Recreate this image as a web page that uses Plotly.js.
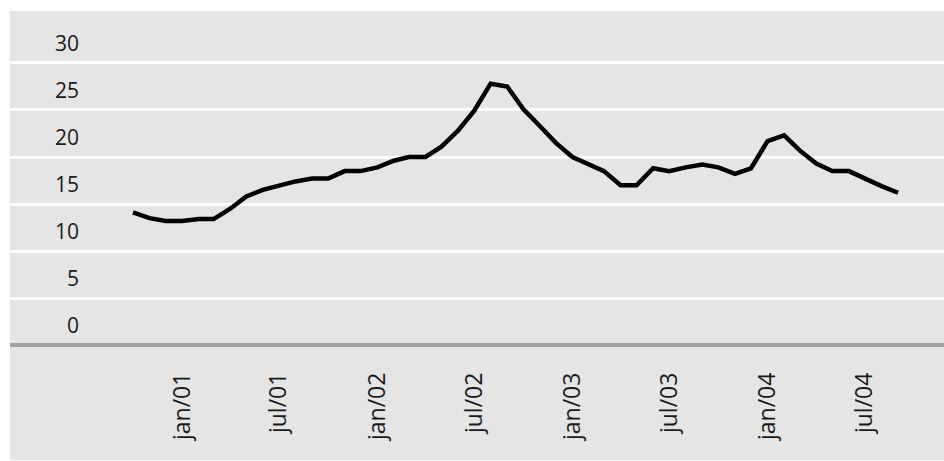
<!DOCTYPE html>
<html>
<head>
<meta charset="utf-8">
<script src="https://cdn.plot.ly/plotly-3.0.1.min.js"></script>
<style>
  html, body { margin: 0; padding: 0; background: #ffffff; }
  #chart { width: 944px; height: 461px; }
</style>
</head>
<body>
<div id="chart"></div>
<script>
// Monthly observations, Oct 2000 – Sep 2004
var months = [
  '2000-10-01','2000-11-01','2000-12-01',
  '2001-01-01','2001-02-01','2001-03-01','2001-04-01','2001-05-01','2001-06-01',
  '2001-07-01','2001-08-01','2001-09-01','2001-10-01','2001-11-01','2001-12-01',
  '2002-01-01','2002-02-01','2002-03-01','2002-04-01','2002-05-01','2002-06-01',
  '2002-07-01','2002-08-01','2002-09-01','2002-10-01','2002-11-01','2002-12-01',
  '2003-01-01','2003-02-01','2003-03-01','2003-04-01','2003-05-01','2003-06-01',
  '2003-07-01','2003-08-01','2003-09-01','2003-10-01','2003-11-01','2003-12-01',
  '2004-01-01','2004-02-01','2004-03-01','2004-04-01','2004-05-01','2004-06-01',
  '2004-07-01','2004-08-01','2004-09-01'
];
var values = [
  14.1, 13.5, 13.2,
  13.2, 13.4, 13.4, 14.5, 15.8, 16.5,
  17.0, 17.4, 17.7, 17.7, 18.5, 18.5,
  18.9, 19.6, 20.0, 20.0, 21.1, 22.8,
  24.9, 27.8, 27.5, 25.1, 23.3, 21.5,
  20.0, 19.2, 18.5, 17.0, 17.0, 18.8,
  18.5, 18.9, 19.2, 18.9, 18.2, 18.8,
  21.7, 22.3, 20.7, 19.3, 18.5, 18.5,
  17.7, 16.9, 16.2
];
var xTickVals = ['2001-01-01','2001-07-01','2002-01-01','2002-07-01',
                 '2003-01-01','2003-07-01','2004-01-01','2004-07-01'];
var xTickText = ['jan/01','jul/01','jan/02','jul/02',
                 'jan/03','jul/03','jan/04','jul/04'];
var yTickVals = [0, 5, 10, 15, 20, 25, 30];
var yTickText = ['0', '5', '10', '15', '20', '25', '30'];

var trace = {
  x: months,
  y: values,
  type: 'scatter',
  mode: 'lines',
  line: { color: '#000000', width: 4.5 },
  hoverinfo: 'skip'
};

var bg = '#e5e5e5';
var layout = {
  width: 944,
  height: 461,
  margin: { l: 10, r: 0, t: 11, b: 111, pad: 0 },
  paper_bgcolor: '#ffffff',
  plot_bgcolor: bg,
  showlegend: false,
  font: { family: 'Open Sans, sans-serif', color: '#1a1a1a' },
  shapes: [{
    type: 'rect', xref: 'paper', yref: 'paper', layer: 'below',
    x0: 0, x1: 1, y0: -0.325, y1: 1,
    fillcolor: bg, line: { width: 0 }
  }],
  xaxis: {
    type: 'date',
    range: ['2000-02-14', '2004-11-26'],
    tickvals: xTickVals,
    ticktext: xTickText,
    tickangle: -90,
    ticks: '',
    showgrid: false,
    zeroline: false,
    showline: false,
    ticklabelstandoff: 17,
    tickfont: { size: 23, color: '#1a1a1a' }
  },
  yaxis: {
    range: [-0.53, 35.53],
    anchor: 'free',
    position: 0.074,
    tickvals: yTickVals,
    ticktext: yTickText,
    ticks: '',
    showline: false,
    showgrid: true,
    gridcolor: '#ffffff',
    gridwidth: 3,
    zeroline: true,
    zerolinecolor: '#a3a3a3',
    zerolinewidth: 4.5,
    ticklabelshift: -19,
    tickfont: { size: 21, color: '#1a1a1a' }
  }
};

Plotly.newPlot('chart', [trace], layout, { displayModeBar: false, staticPlot: true });
</script>
</body>
</html>
